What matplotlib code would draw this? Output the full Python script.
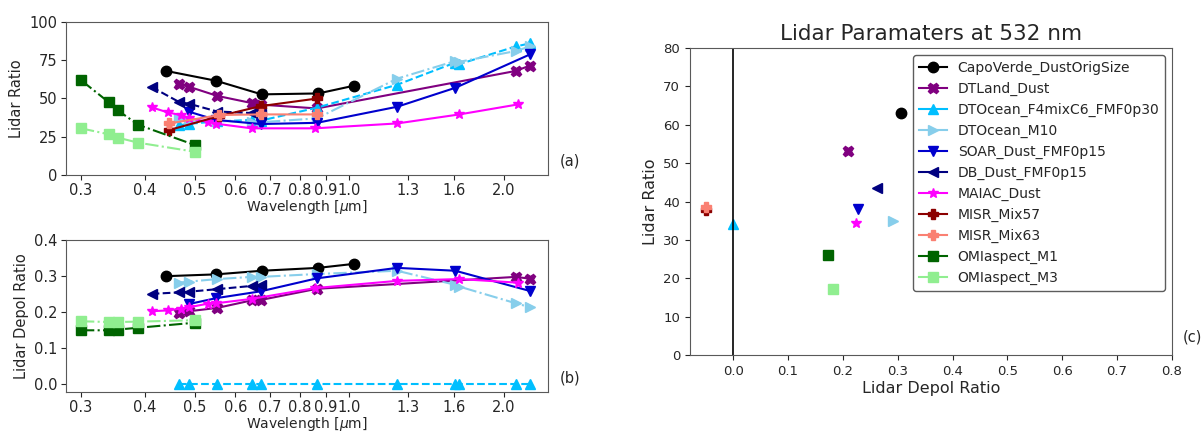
import numpy as np
import matplotlib
matplotlib.use("Agg")
import matplotlib.pyplot as plt
from matplotlib.ticker import FixedLocator, NullLocator, FixedFormatter

# ---- data ----
names = ["CapoVerde_DustOrigSize", "DTLand_Dust", "DTOcean_F4mixC6_FMF0p30",
         "DTOcean_M10", "SOAR_Dust_FMF0p15", "DB_Dust_FMF0p15", "MAIAC_Dust",
         "MISR_Mix57", "MISR_Mix63", "OMIaspect_M1", "OMIaspect_M3"]

colors = ["black", "purple", "deepskyblue", "skyblue", "mediumblue", "navy",
          "magenta", "darkred", "salmon", "darkgreen", "lightgreen"]
markers = ["o", "X", "^", ">", "v", "<", "*", "P", "P", "s", "s"]
styles = ["-", "-", "--", "-.", "-", "--", "-", "-", "-", "-.", "-."]

wl_capo = [0.44, 0.55, 0.675, 0.87, 1.02]
lr_capo = [68.0, 61.6, 52.7, 53.3, 58.3]
dp_capo = [0.300, 0.305, 0.315, 0.323, 0.334]

wl_dtland = [0.466, 0.488, 0.553, 0.646, 0.672, 0.865, 2.11, 2.25]
lr_dtland = [59.7, 57.6, 51.7, 47.0, 46.0, 43.5, 68.0, 71.5]
dp_dtland = [0.198, 0.203, 0.212, 0.233, 0.234, 0.265, 0.298, 0.293]

wl_dtocean = [0.466, 0.488, 0.553, 0.646, 0.672, 0.865, 1.24, 1.61, 1.64, 2.11, 2.25]
lr_f4 = [32.5, 33.5, 35.0, 36.0, 35.5, 44.0, 59.0, 73.5, 72.5, 84.0, 86.0]
dp_f4 = [0.0, 0.0, 0.0, 0.0, 0.0, 0.0, 0.0, 0.0, 0.0, 0.0, 0.0]
lr_m10 = [37.0, 35.0, 35.5, 34.5, 34.5, 37.0, 63.0, 74.5, 74.0, 81.0, 84.0]
dp_m10 = [0.282, 0.285, 0.292, 0.298, 0.298, 0.306, 0.315, 0.276, 0.271, 0.225, 0.214]

wl_soar = [0.488, 0.55, 0.672, 0.865, 1.24, 1.61, 2.25]
lr_soar = [41.3, 36.0, 33.3, 34.1, 44.6, 57.0, 78.8]
dp_soar = [0.223, 0.239, 0.258, 0.294, 0.323, 0.315, 0.259]

wl_db = [0.412, 0.466, 0.488, 0.553, 0.646, 0.672]
lr_db = [57.5, 47.7, 46.5, 41.5, 40.5, 40.0]
dp_db = [0.251, 0.255, 0.257, 0.264, 0.273, 0.276]

wl_maiac = [0.412, 0.443, 0.469, 0.488, 0.531, 0.551, 0.645, 0.858, 1.24, 1.64, 2.13]
lr_maiac = [44.2, 40.9, 39.2, 37.0, 34.8, 33.5, 30.5, 30.5, 33.7, 39.6, 46.1]
dp_maiac = [0.203, 0.205, 0.210, 0.214, 0.224, 0.225, 0.237, 0.267, 0.287, 0.292, 0.282]

wl_misr = [0.446, 0.558, 0.672, 0.866]
lr_mix57 = [29.4, 38.5, 45.0, 50.0]
dp_mix57 = [-0.05, -0.05, -0.05, -0.05]
lr_mix63 = [33.7, 39.2, 39.6, 39.6]
dp_mix63 = [-0.05, -0.05, -0.05, -0.05]

wl_omi = [0.30, 0.34, 0.354, 0.388, 0.50]
lr_m1 = [62.0, 47.5, 42.2, 32.8, 19.6]
dp_m1 = [0.150, 0.150, 0.152, 0.157, 0.171]
lr_m3 = [30.5, 26.6, 24.4, 21.1, 15.2]
dp_m3 = [0.175, 0.173, 0.173, 0.174, 0.178]

# values at 532 nm (panel c)
dp_532 = [0.305, 0.209, 0.0, 0.292, 0.228, 0.2625, 0.223, -0.05, -0.05, 0.172, 0.181]
lr_532 = [63.0, 53.2, 34.1, 34.8, 38.0, 43.4, 34.5, 37.8, 38.5, 26.1, 17.1]

wl_ticks = [0.3, 0.4, 0.5, 0.6, 0.7, 0.8, 0.9, 1.0, 1.3, 1.6, 2.0]

wls = [wl_capo, wl_dtland, wl_dtocean, wl_dtocean, wl_soar, wl_db, wl_maiac,
       wl_misr, wl_misr, wl_omi, wl_omi]
lrs = [lr_capo, lr_dtland, lr_f4, lr_m10, lr_soar, lr_db, lr_maiac,
       lr_mix57, lr_mix63, lr_m1, lr_m3]
dps = [dp_capo, dp_dtland, dp_f4, dp_m10, dp_soar, dp_db, dp_maiac,
       dp_mix57, dp_mix63, dp_m1, dp_m3]

plt.rcParams["text.color"] = "0.15"
plt.rcParams["axes.labelcolor"] = "0.15"
plt.rcParams["xtick.color"] = "0.15"
plt.rcParams["ytick.color"] = "0.15"
plt.rcParams["axes.edgecolor"] = "0.35"

fig = plt.figure(figsize=(12.02, 4.34), dpi=100)
ax_a = fig.add_axes([0.0549, 0.5968, 0.401, 0.3525])
ax_b = fig.add_axes([0.0549, 0.0968, 0.401, 0.3500])
ax_c = fig.add_axes([0.574, 0.182, 0.401, 0.7074])

for i in range(len(names)):
    ax_a.plot(wls[i], lrs[i], linestyle=styles[i], marker=markers[i],
              color=colors[i], ms=7.5, lw=1.5)
    ax_b.plot(wls[i], dps[i], linestyle=styles[i], marker=markers[i],
              color=colors[i], ms=7.5, lw=1.5)

for ax, ylab in [(ax_a, "Lidar Ratio"), (ax_b, "Lidar Depol Ratio")]:
    ax.set_xscale("log")
    ax.set_xlim(0.2805, 2.44)
    ax.xaxis.set_major_locator(FixedLocator(wl_ticks))
    ax.xaxis.set_major_formatter(FixedFormatter([f"{t:.1f}" for t in wl_ticks]))
    ax.xaxis.set_minor_locator(NullLocator())
    ax.set_xlabel(r"Wavelength [$\mu$m]", fontsize=10, labelpad=0)
    ax.set_ylabel(ylab, fontsize=10.5)
    ax.tick_params(labelsize=10.5, pad=2.5)

ax_a.set_ylim(0, 100)
ax_a.set_yticks([0, 25, 50, 75, 100])
ax_b.set_ylim(-0.021, 0.4)
ax_b.set_yticks([0.0, 0.1, 0.2, 0.3, 0.4])
ax_a.text(1.025, 0.06, "(a)", transform=ax_a.transAxes, fontsize=10.5)
ax_b.text(1.025, 0.06, "(b)", transform=ax_b.transAxes, fontsize=10.5)

for i in range(len(names)):
    ax_c.plot(dp_532[i], lr_532[i], marker=markers[i], color=colors[i],
              ms=7.5, linestyle="-", label=names[i])
ax_c.axvline(0, color="black", lw=1.2)
ax_c.set_xlim(-0.079, 0.8)
ax_c.set_ylim(0, 80)
ax_c.set_xticks(np.arange(0, 0.81, 0.1))
ax_c.set_yticks(np.arange(0, 81, 10))
ax_c.tick_params(labelsize=9.5)
ax_c.set_xlabel("Lidar Depol Ratio", fontsize=11.5, labelpad=2)
ax_c.set_ylabel("Lidar Ratio", fontsize=11.5)
ax_c.set_title("Lidar Paramaters at 532 nm", fontsize=15.5)
ax_c.legend(loc="upper right", fontsize=10, edgecolor="0.2", handletextpad=0.8)
ax_c.text(1.022, 0.045, "(c)", transform=ax_c.transAxes, fontsize=10.5)

fig.savefig("out.png", dpi=100)
